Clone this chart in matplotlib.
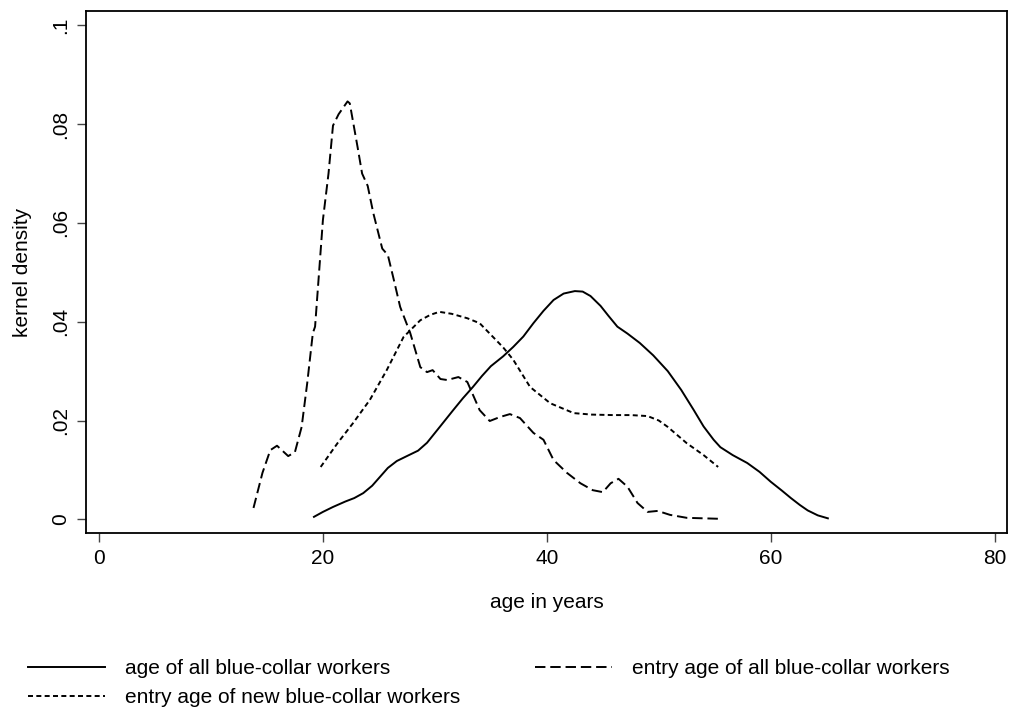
import matplotlib
matplotlib.use("Agg")
import matplotlib.pyplot as plt

plt.rcParams['font.family'] = ['Liberation Sans', 'DejaVu Sans']
plt.rcParams['lines.scale_dashes'] = False

# age of all blue-collar workers
all_x = [19.2, 20.0, 20.9, 22.0, 22.8, 23.6, 24.4, 25.1, 25.8, 26.6, 27.5, 28.5, 29.3, 30.4,
         31.6, 32.5, 33.4, 34.2, 35.0, 36.1, 37.0, 37.9, 38.8, 39.7, 40.6, 41.5, 42.5,
         43.2, 43.9, 44.8, 45.5, 46.3, 47.2, 48.3, 49.5, 50.8, 52.0, 53.1, 54.0, 54.9,
         55.5, 56.6, 57.9, 59.0, 60.0, 61.0, 61.8, 62.6, 63.3, 64.2, 65.1]
all_y = [0.0005, 0.0015, 0.0025, 0.0036, 0.0043, 0.0053, 0.0068, 0.0086, 0.0104, 0.0118,
         0.0128, 0.0139, 0.0155, 0.0186, 0.0220, 0.0245, 0.0268, 0.0290, 0.0310, 0.0330,
         0.0349, 0.0370, 0.0397, 0.0422, 0.0444, 0.0457, 0.0462, 0.0461, 0.0452, 0.0432,
         0.0412, 0.0390, 0.0376, 0.0357, 0.0332, 0.0300, 0.0262, 0.0222, 0.0188, 0.0161,
         0.0146, 0.0130, 0.0114, 0.0096, 0.0076, 0.0058, 0.0043, 0.0029, 0.0018, 0.0008,
         0.0002]

# entry age of all blue-collar workers
entry_x = [13.8, 14.6, 15.3, 15.9, 16.9, 17.5, 18.1, 18.6, 19.1, 19.3, 20.0, 20.5, 20.9, 21.4,
           22.2, 22.4, 23.1, 23.5, 24.0, 24.5, 25.3, 25.8, 26.3, 26.9, 27.8, 28.7, 29.3,
           29.8, 30.5, 31.1, 32.1, 32.9, 34.0, 34.9, 35.8, 36.7, 37.6, 38.8, 39.7, 40.6,
           41.8, 43.0, 44.1, 45.0, 45.7, 46.4, 47.2, 48.1, 49.0, 49.9, 51.0, 52.5, 55.5]
entry_y = [0.0023, 0.0094, 0.0140, 0.0149, 0.0128, 0.0136, 0.0187, 0.0276, 0.0377, 0.0390,
           0.0606, 0.0700, 0.0797, 0.0820, 0.0846, 0.0842, 0.0753, 0.0700, 0.0675, 0.0620,
           0.0548, 0.0535, 0.0488, 0.0430, 0.0377, 0.0308, 0.0298, 0.0302, 0.0284, 0.0282,
           0.0288, 0.0278, 0.0221, 0.0199, 0.0207, 0.0213, 0.0205, 0.0175, 0.0161, 0.0120,
           0.0094, 0.0073, 0.0059, 0.0055, 0.0073, 0.0082, 0.0066, 0.0033, 0.0015, 0.0017,
           0.0009, 0.0003, 0.0001]

# entry age of new blue-collar workers
new_x = [19.8, 21.3, 22.7, 24.2, 25.7, 27.2, 28.7, 29.6, 30.4, 31.5, 32.9, 34.0, 35.2, 36.1,
         37.0, 38.5, 40.3, 42.4, 44.0, 45.9, 47.5, 49.0, 50.0, 50.8, 52.5, 54.0, 55.3]
new_y = [0.0106, 0.0154, 0.0195, 0.0242, 0.0302, 0.0369, 0.0403, 0.0414, 0.0420, 0.0416,
         0.0407, 0.0397, 0.0369, 0.0348, 0.0323, 0.0268, 0.0235, 0.0215, 0.0212, 0.0211,
         0.0211, 0.0209, 0.0200, 0.0187, 0.0154, 0.0130, 0.0106]

labels = ["age of all blue-collar workers",
          "entry age of all blue-collar workers",
          "entry age of new blue-collar workers"]

xticks = [0, 20, 40, 60, 80]
yticks = [0, 0.02, 0.04, 0.06, 0.08, 0.1]
yticklabels = ["0", ".02", ".04", ".06", ".08", ".1"]

FS = 15

fig = plt.figure(figsize=(10.10, 7.13), dpi=100)
ax = fig.add_axes([86/1010, 1 - 533/713, (1007-86)/1010, (533-11)/713])

lw = 1.4
l1, = ax.plot(all_x, all_y, color='black', lw=lw, label=labels[0])
l2, = ax.plot(entry_x, entry_y, color='black', lw=lw, label=labels[1])
l2.set_dashes([7.5, 3.5])
l3, = ax.plot(new_x, new_y, color='black', lw=lw, label=labels[2])
l3.set_dashes([3.6, 2.4])

ax.set_xlim(-1.16, 81.1)
ax.set_ylim(-0.00277, 0.1029)
ax.set_xticks(xticks)
ax.set_xticklabels([str(t) for t in xticks])
ax.set_yticks(yticks)
ax.set_yticklabels(yticklabels, rotation=90, va='center')
ax.tick_params(direction='out', length=6.5, width=1, color='#444444', labelsize=FS, pad=5)
for s in ax.spines.values():
    s.set_linewidth(1.3)

ax.set_xlabel("age in years", fontsize=FS, labelpad=18)
ax.set_ylabel("kernel density", fontsize=FS, labelpad=14)

fig.legend(handles=[l1, l3, l2], labels=[labels[0], labels[2], labels[1]],
           ncol=2, loc='upper left', bbox_to_anchor=(28/1010, 1 - 659/713),
           frameon=False, fontsize=FS, handlelength=3.7, handletextpad=0.95,
           columnspacing=3.6, labelspacing=0.5, borderaxespad=0, borderpad=0)

fig.savefig("out.png", dpi=100)
